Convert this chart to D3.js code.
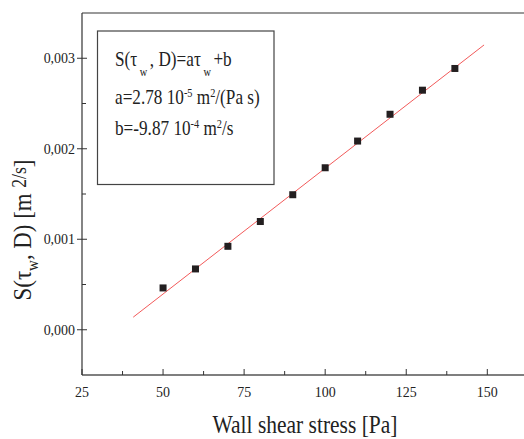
<!DOCTYPE html>
<html>
<head>
<meta charset="utf-8">
<script src="https://cdn.jsdelivr.net/npm/d3@7"></script>
<style>
  body { margin: 0; background: #fff; }
  text { font-family: "Liberation Serif", "Times New Roman", serif; fill: #222; }
</style>
</head>
<body>
<div id="chart"></div>
<script>
// data
var stress = [50, 60, 70, 80, 90, 100, 110, 120, 130, 140];
var sValues = [0.000462, 0.000672, 0.000922, 0.001196, 0.001492, 0.00179, 0.002085, 0.002381, 0.002647, 0.002887];
var fitX = [40.8, 149];
var fitY = [0.000139, 0.003147];
var xTicks = [25, 50, 75, 100, 125, 150];
var xMinor = [37.5, 62.5, 87.5, 112.5, 137.5];
var yTicks = [0, 0.001, 0.002, 0.003];
var yTickLabels = ["0,000", "0,001", "0,002", "0,003"];
var yMinor = [0.0005, 0.0015, 0.0025];

var width = 524, height = 439;
var plotLeft = 82, plotTop = 13, plotBottom = 375;

var x = d3.scaleLinear().domain([25, 150]).range([plotLeft, 487.3]);
var y = d3.scaleLinear().domain([-0.0005, 0.0035]).range([plotBottom, plotTop]);

var svg = d3.select("#chart").append("svg")
  .attr("width", width)
  .attr("height", height);

// frame (right side is cut off)
svg.append("line")
  .attr("x1", plotLeft).attr("x2", width).attr("y1", plotTop).attr("y2", plotTop)
  .attr("stroke", "#777").attr("stroke-width", 1.5);
svg.append("line")
  .attr("x1", plotLeft).attr("x2", width).attr("y1", plotBottom).attr("y2", plotBottom)
  .attr("stroke", "#555").attr("stroke-width", 1.3);
svg.append("line")
  .attr("x1", plotLeft).attr("x2", plotLeft).attr("y1", plotTop).attr("y2", plotBottom)
  .attr("stroke", "#333").attr("stroke-width", 1.2);

// x ticks (inside)
svg.selectAll(".xmaj").data(xTicks).enter().append("line")
  .attr("x1", function(d) { return x(d); }).attr("x2", function(d) { return x(d); })
  .attr("y1", plotBottom).attr("y2", plotBottom - 6)
  .attr("stroke", "#333");
svg.selectAll(".xmin").data(xMinor).enter().append("line")
  .attr("x1", function(d) { return x(d); }).attr("x2", function(d) { return x(d); })
  .attr("y1", plotBottom).attr("y2", plotBottom - 4)
  .attr("stroke", "#333");
svg.selectAll(".xlab").data(xTicks).enter().append("text")
  .attr("transform", function(d) { return "translate(" + x(d) + ",397) scale(0.9,1)"; })
  .attr("text-anchor", "middle")
  .attr("font-size", 15.5)
  .text(function(d) { return d; });

// y ticks
svg.selectAll(".ymaj").data(yTicks).enter().append("line")
  .attr("x1", plotLeft - 5).attr("x2", plotLeft + 5)
  .attr("y1", function(d) { return y(d); }).attr("y2", function(d) { return y(d); })
  .attr("stroke", "#333");
svg.selectAll(".ymin").data(yMinor).enter().append("line")
  .attr("x1", plotLeft).attr("x2", plotLeft + 4)
  .attr("y1", function(d) { return y(d); }).attr("y2", function(d) { return y(d); })
  .attr("stroke", "#333");
svg.selectAll(".ylab").data(yTicks).enter().append("text")
  .attr("transform", function(d) { return "translate(75," + (y(d) + 5) + ") scale(0.9,1)"; })
  .attr("text-anchor", "end")
  .attr("font-size", 15.5)
  .text(function(d, i) { return yTickLabels[i]; });

// fit line
var fitData = fitX.map(function(d, i) { return [d, fitY[i]]; });
svg.append("path")
  .datum(fitData)
  .attr("d", d3.line().x(function(d) { return x(d[0]); }).y(function(d) { return y(d[1]); }))
  .attr("stroke", "#f25a5a")
  .attr("stroke-width", 1)
  .attr("fill", "none");

// points
svg.selectAll(".pt").data(stress).enter().append("rect")
  .attr("x", function(d) { return x(d) - 3.5; })
  .attr("y", function(d, i) { return y(sValues[i]) - 3.5; })
  .attr("width", 7).attr("height", 7)
  .attr("fill", "#231f20");

// text box
svg.append("rect")
  .attr("x", 97.5).attr("y", 31).attr("width", 176.5).attr("height", 153.5)
  .attr("fill", "#fff").attr("stroke", "#444").attr("stroke-width", 1.2);

var l1 = svg.append("text").attr("transform", "translate(115,66) scale(0.86,1)").attr("font-size", 20);
l1.append("tspan").text("S(τ");
l1.append("tspan").attr("font-size", 12).attr("dy", 10).text(" w ");
l1.append("tspan").attr("dy", -10).text(", D)=aτ");
l1.append("tspan").attr("font-size", 12).attr("dy", 10).text(" w ");
l1.append("tspan").attr("dy", -10).text("+b");

var l2 = svg.append("text").attr("transform", "translate(115,104) scale(0.86,1)").attr("font-size", 20);
l2.append("tspan").text("a=2.78 10");
l2.append("tspan").attr("font-size", 12).attr("dy", -7).text("-5");
l2.append("tspan").attr("dy", 7).text(" m");
l2.append("tspan").attr("font-size", 12).attr("dy", -7).text("2");
l2.append("tspan").attr("dy", 7).text("/(Pa s)");

var l3 = svg.append("text").attr("transform", "translate(115,135) scale(0.86,1)").attr("font-size", 20);
l3.append("tspan").text("b=-9.87 10");
l3.append("tspan").attr("font-size", 12).attr("dy", -7).text("-4");
l3.append("tspan").attr("dy", 7).text(" m");
l3.append("tspan").attr("font-size", 12).attr("dy", -7).text("2");
l3.append("tspan").attr("dy", 7).text("/s");

// axis titles
svg.append("text")
  .attr("transform", "translate(305,433) scale(0.86,1)")
  .attr("text-anchor", "middle")
  .attr("font-size", 25)
  .text("Wall shear stress [Pa]");

var yt = svg.append("text")
  .attr("transform", "translate(31,230) rotate(-90) scale(0.88,1)")
  .attr("text-anchor", "middle")
  .attr("font-size", 26);
yt.append("tspan").text("S(τ");
yt.append("tspan").attr("font-size", 17).attr("dy", 7).text("w");
yt.append("tspan").attr("dy", -7).text(", D) [m ");
yt.append("tspan").attr("font-size", 20).attr("dy", -5).text("2");
yt.append("tspan").attr("font-size", 20).text("/s");
yt.append("tspan").attr("dy", 5).text("]");
</script>
</body>
</html>
